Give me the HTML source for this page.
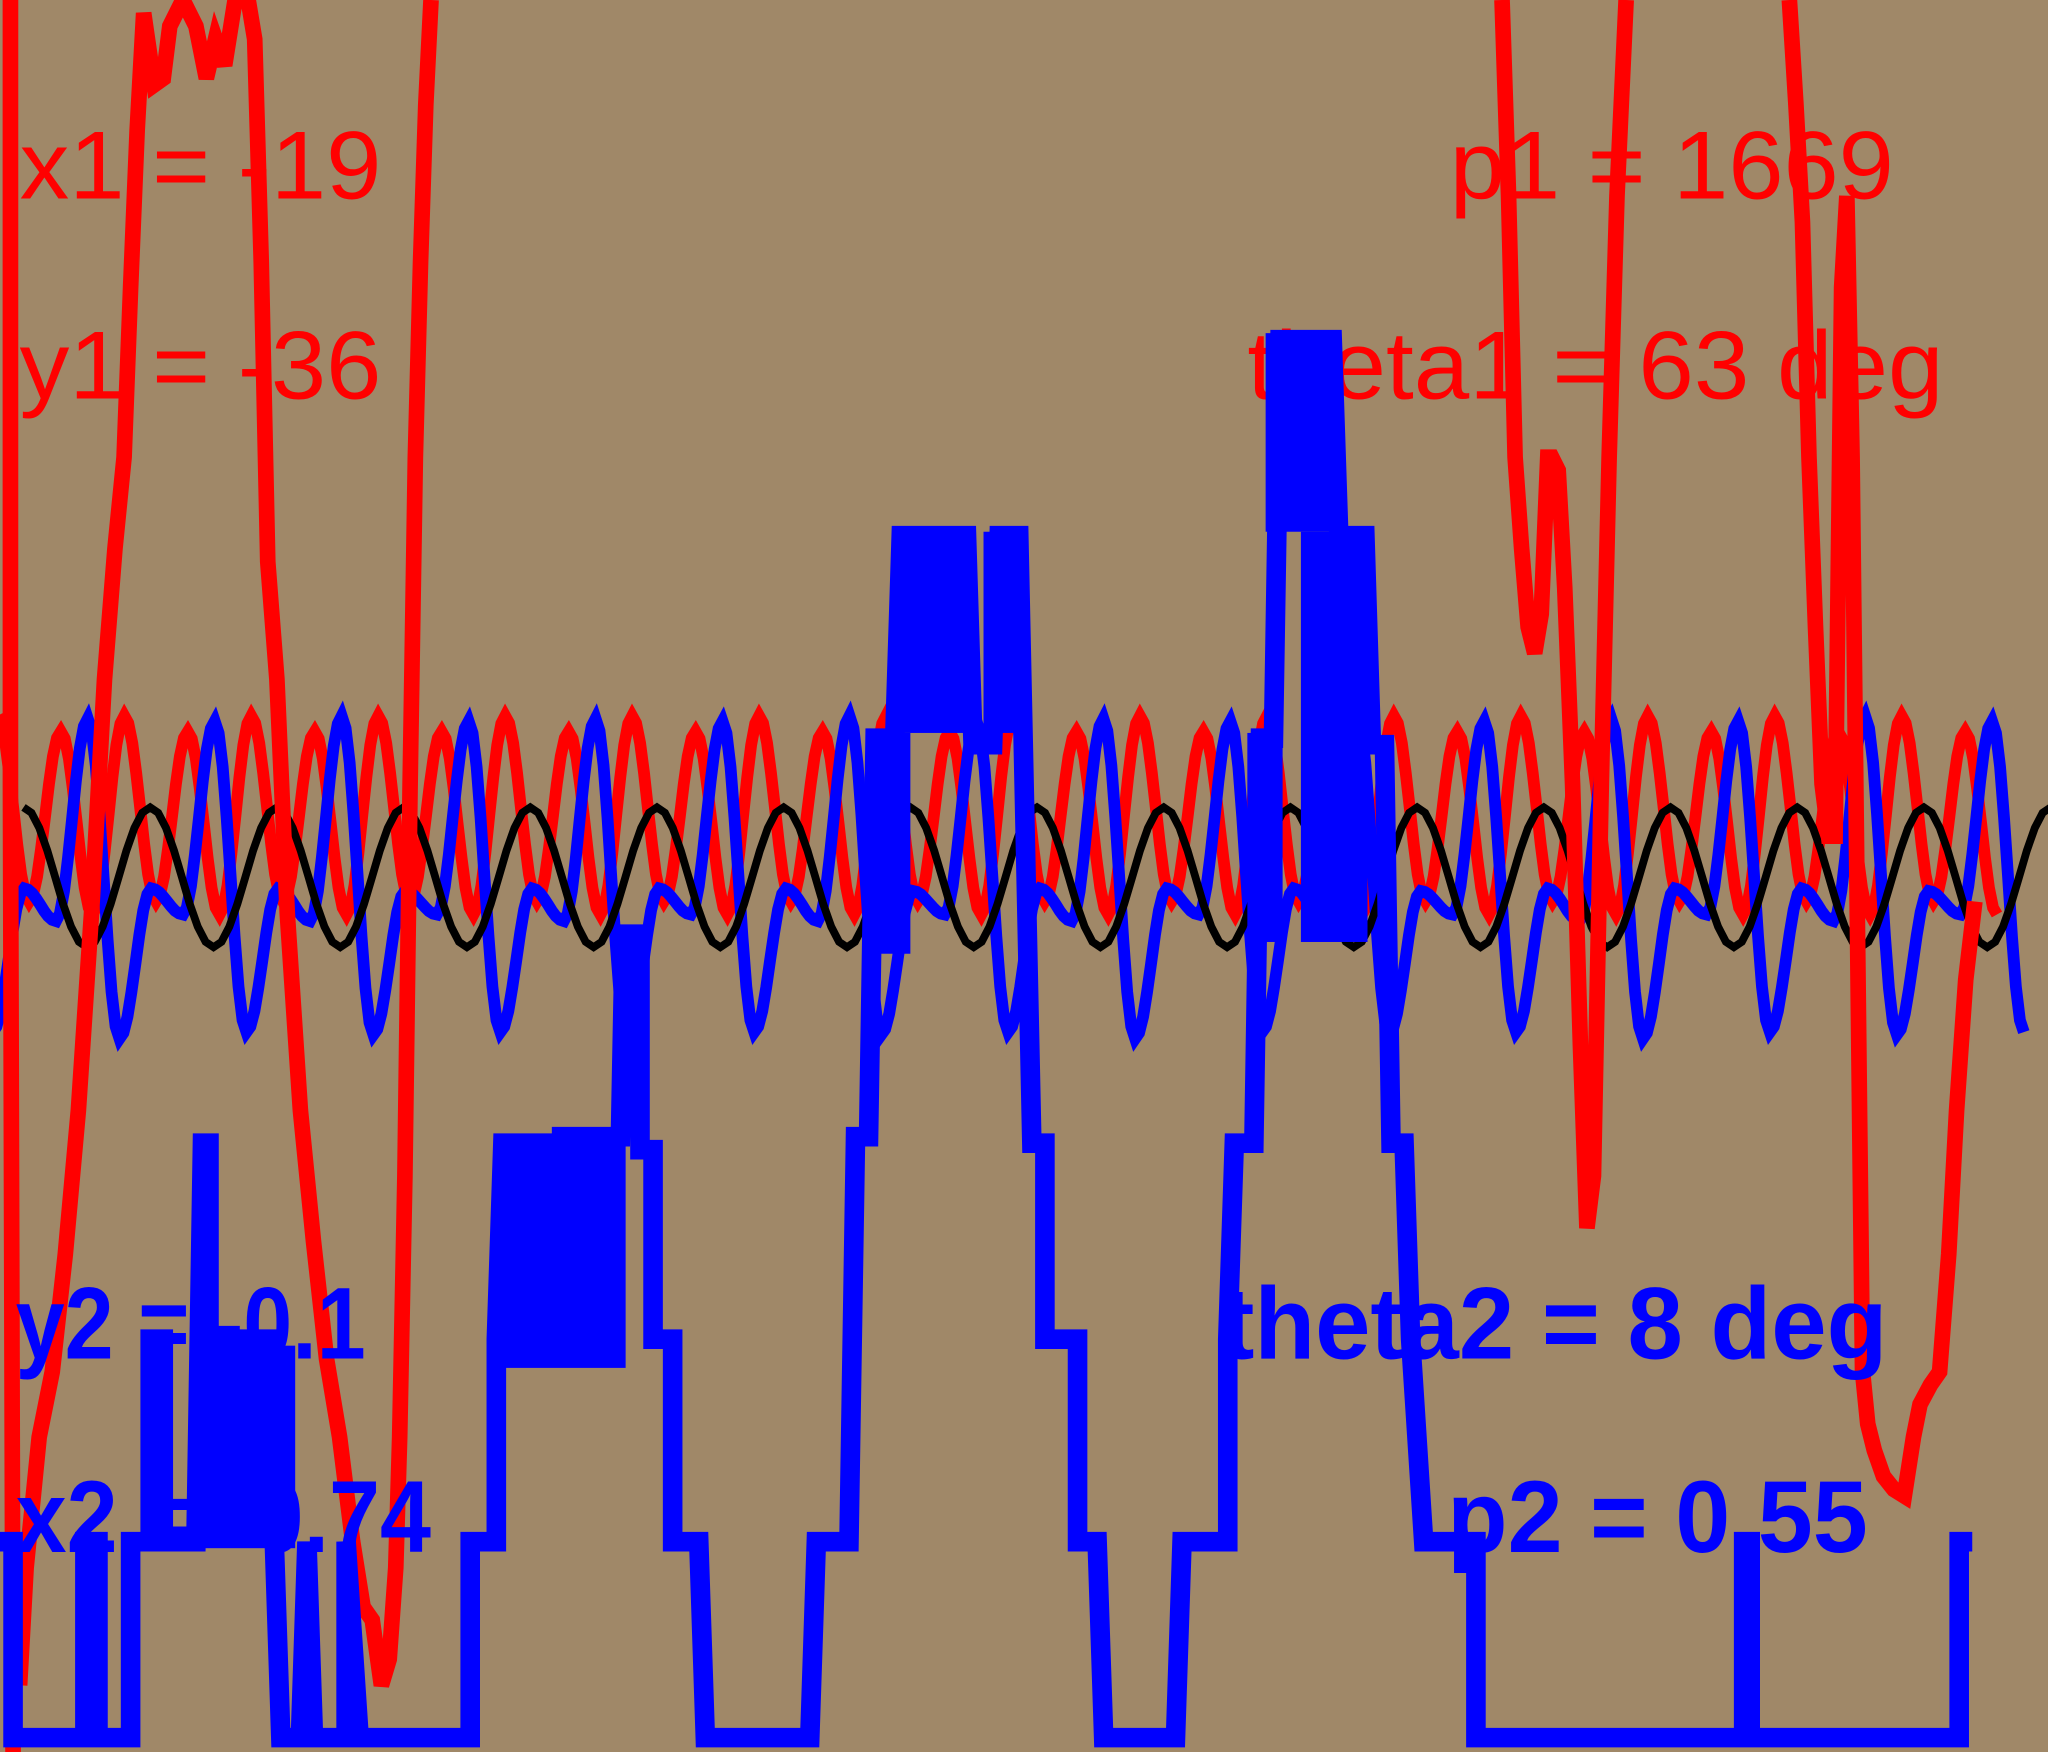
<!DOCTYPE html>
<html><head><meta charset="utf-8"><style>
html,body{margin:0;padding:0;background:#a08868;}
svg{display:block}
</style></head><body>
<svg id="chart" width="2048" height="1752" viewBox="0 0 1568 1341" preserveAspectRatio="none" xmlns="http://www.w3.org/2000/svg">
<rect x="0" y="0" width="1568" height="1341" fill="#a08868"/>
<g font-family="Liberation Sans, sans-serif">
<text x="15" y="152" fill="#ff0000" font-size="74" textLength="277" lengthAdjust="spacingAndGlyphs">x1 = -19</text>
<text x="15" y="305" fill="#ff0000" font-size="74" textLength="277" lengthAdjust="spacingAndGlyphs">y1 = -36</text>
<text x="1110" y="152" fill="#ff0000" font-size="74" textLength="340" lengthAdjust="spacingAndGlyphs">p1 = 1669</text>
<text x="955" y="305" fill="#ff0000" font-size="74" textLength="533" lengthAdjust="spacingAndGlyphs">theta1 = 63 deg</text>
</g>
<g id="waves"></g>
<g id="big"></g>
<g font-family="Liberation Sans, sans-serif">
<text x="12" y="1040" fill="#0000ff" font-weight="bold" font-size="78" textLength="268" lengthAdjust="spacingAndGlyphs">y2 = -0.1</text>
<text x="12" y="1188" fill="#0000ff" font-weight="bold" font-size="78" textLength="318" lengthAdjust="spacingAndGlyphs">x2 = -0.74</text>
<text x="935" y="1040" fill="#0000ff" font-weight="bold" font-size="78" textLength="510" lengthAdjust="spacingAndGlyphs">theta2 = 8 deg</text>
<text x="1108" y="1188" fill="#0000ff" font-weight="bold" font-size="78" textLength="322" lengthAdjust="spacingAndGlyphs">p2 = 0.55</text>
</g>
</svg>
<script>
// extrema values of periodic series, sampled every half-period
const blackExtrema=[618,725,618,725,618,725,618,725,618,725,618,725,618,725,618,725,618,725,618,725,618,725,618,725,618,725,618,725,618,725,618,725,618,725];
const blueExtrema=[552,790,680,705,550,795,680,700,552,790,680,705,548,792,682,700,552,790,680,705,550,795,680,700,552,790,680,705,548,792,682,700,552,790,680,705,550,795,680,700,552,790,680,705,548,792,682,700,552,790,680,705,550,795,680,700,552,790,680,705,548,792,682,700,552,790];
const redExtrema=[548,690,560,700,548,690,560,700,548,690,560,700,548,690,560,700,548,690,560,700,548,690,560,700,548,690,560,700,548,690,560,700,548,690,560,700,548,690,560,700,548,690,560,700,548,690,560,700,548,690,560,700,548,690,560,700,548,690,560,700,548,690,560,700];
// big trajectories: t and value
const redA_t=[8,8,10];const redA_v=[0,600,1341];
const redB_t=[15,20,30,40,50,60,70,80,88,95,100,105,110,118,125,130,140,150,158,165,172,180,190,195,200,205,212,220,230,240,250,260,270,278,285,292,298,303,306,310,314,318,322,326,330];
const redB_v=[1290,1200,1100,1050,960,850,700,520,420,350,220,100,10,65,60,20,0,20,60,30,50,0,0,30,200,430,520,700,850,950,1040,1100,1180,1230,1240,1290,1270,1200,1100,900,600,350,200,80,0];
const redC_t=[1150,1155,1160,1165,1170,1175,1180,1185,1188,1193,1198,1204,1210,1215,1220,1226,1232,1238,1245];
const redC_v=[0,150,350,420,480,500,470,350,350,360,450,600,800,940,900,600,350,150,0];
const redD_t=[1370,1375,1380,1385,1390,1395,1400,1405,1410,1414,1418,1422,1426,1430,1435,1442,1450,1458,1465,1470,1478,1485,1492,1498,1505,1512];
const redD_v=[0,80,170,350,480,600,640,640,220,150,350,700,1050,1090,1110,1130,1140,1145,1100,1075,1060,1050,960,850,750,690];
const blue_t=[0,10,10,65,65,75,75,100,100,115,115,125,125,150,155,160,160,205,210,215,230,235,240,265,265,275,360,360,380,380,385,430,430,475,478,490,490,500,500,515,515,535,540,620,625,650,655,665,670,685,690,740,745,760,765,780,790,800,800,825,825,840,845,900,905,940,940,945,960,965,975,980,1020,1025,1045,1050,1060,1065,1075,1080,1090,1110,1130,1130,1335,1335,1340,1340,1500,1500,1510];
const blue_v=[1180,1180,1330,1330,1180,1180,1330,1330,1180,1180,1025,1025,1180,1180,875,875,1025,1025,1180,1330,1330,1180,1330,1330,1180,1330,1330,1180,1180,1025,875,875,870,870,715,715,880,880,1025,1025,1180,1180,1330,1330,1180,1180,870,870,565,565,410,410,570,570,410,410,875,875,1025,1025,1180,1180,1330,1330,1180,1180,1025,875,875,565,565,260,260,410,410,570,570,875,875,1025,1180,1180,1180,1330,1330,1180,1180,1330,1330,1180,1180];
// dense-oscillation blocks of the blue series: start t, end t, top value, bottom value
const blockT0=[157,381,683,753,969,996,955,667];
const blockT1=[226,479,741,784,1023,1047,982,697];
const blockTop=[1030,877,407,407,255,407,561,561];
const blockBot=[1185,1047,561,561,407,721,721,730];
const W=1568,H=1341;
function xs(t){return t*W/1568;}
function ys(v){return v*H/1341;}
const NS='http://www.w3.org/2000/svg';
function wavePath(ext,x0,step){
  let d='';
  for(let i=0;i<ext.length-1;i++){
    const xa=x0+i*step, ya=ext[i], yb=ext[i+1];
    for(let k=0;k<=8;k++){
      const f=k/8, s=(1-Math.cos(Math.PI*f))/2;
      d+=(i===0&&k===0?'M':'L')+xs(xa+f*step).toFixed(1)+' '+ys(ya+(yb-ya)*s).toFixed(1)+' ';
    }
  }
  return d;
}
function addPath(g,d,color,w,name){
  const p=document.createElementNS(NS,'path');
  p.setAttribute('d',d);p.setAttribute('fill','none');p.setAttribute('stroke',color);
  p.setAttribute('stroke-width',w);p.setAttribute('stroke-linejoin','miter');
  
  
  g.appendChild(p);
}
function linePath(ts,vs){return ts.map((t,i)=>(i?'L':'M')+xs(t).toFixed(1)+' '+ys(vs[i]).toFixed(1)).join(' ');}
const gw=document.getElementById('waves');
addPath(gw,wavePath(redExtrema,-2,24.3),'#ff0000',9,'red-oscillation');
addPath(gw,wavePath(blueExtrema,-30,24.3),'#0000ff',9,'blue-oscillation');
addPath(gw,wavePath(blackExtrema,18,48.5),'#000000',6,'black-sine');
const gb=document.getElementById('big');
addPath(gb,linePath(redA_t,redA_v),'#ff0000',12,'red-trajectory-a');
addPath(gb,linePath(redB_t,redB_v),'#ff0000',12,'red-trajectory-b');
addPath(gb,linePath(redC_t,redC_v),'#ff0000',12,'red-trajectory-c');
addPath(gb,linePath(redD_t,redD_v),'#ff0000',12,'red-trajectory-d');
addPath(gb,linePath(blue_t,blue_v),'#0000ff',15,'blue-step-trajectory');
for(let i=0;i<blockT0.length;i++){
  const r=document.createElementNS(NS,'rect');
  r.setAttribute('x',xs(blockT0[i]));r.setAttribute('y',ys(blockTop[i]));
  r.setAttribute('width',xs(blockT1[i])-xs(blockT0[i]));r.setAttribute('height',ys(blockBot[i])-ys(blockTop[i]));
  r.setAttribute('fill','#0000ff');
  
  
  gb.appendChild(r);
}
</script>
</body></html>
